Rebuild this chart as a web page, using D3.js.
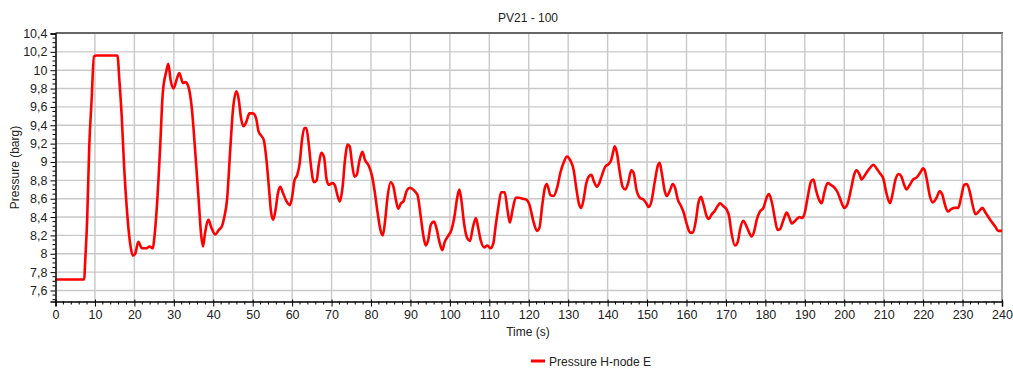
<!DOCTYPE html>
<html>
<head>
<meta charset="utf-8">
<script src="https://cdn.jsdelivr.net/npm/d3@7"></script>
<style>
  html, body { margin: 0; padding: 0; background: #fff; }
  svg { display: block; font-family: "Liberation Sans", Arial, sans-serif; }
</style>
</head>
<body>
<svg id="chart" width="1013" height="369"></svg>
<script>
// Pressure at H-node E over time, PV21 - 100 case
const chartTitle = "PV21 - 100";
const seriesName = "Pressure H-node E";
const xLabel = "Time (s)";
const yLabel = "Pressure (barg)";

const time = [
  0, 7.3, 7.46, 8.05, 8.56, 9.15, 9.75, 10.4, 15.7, 16.2, 16.8, 17.4, 18.05, 18.9, 19.6,
  20.2, 21.0, 21.9, 23.1, 23.8, 24.7, 25.0, 25.7, 26.5, 27.2, 28.05, 28.6, 29.2, 29.9,
  30.8, 31.4, 32.3, 32.9, 33.7, 34.6, 35.4, 36.3, 36.9, 37.4, 37.9, 38.8, 39.4,
  40.5, 41.4, 42.2, 42.8, 43.5, 44.3, 45.0, 45.9, 46.5, 47.0, 47.7, 48.4, 49.2,
  50.1, 50.9, 51.5, 52.1, 52.8, 53.5, 54.1, 54.7, 55.2, 55.8, 56.4, 57.0, 57.7, 58.6, 59.4,
  60.0, 60.6, 61.3, 61.9, 62.5, 63.1, 63.6, 64.2, 64.8, 65.5, 66.2, 66.8, 67.4, 68.1, 68.7, 69.3,
  70.2, 70.8, 71.6, 72.1, 72.8, 73.4, 74.1, 74.6, 75.2, 75.8, 76.4, 77.0, 77.8, 78.5, 79.3,
  80.2, 81.0, 81.7, 82.5, 83.0, 83.6, 84.2, 85.0, 85.7, 86.3, 86.9, 87.6, 88.2, 89.1, 89.9,
  90.9, 91.8, 92.6, 93.3, 93.9, 94.5, 95.2, 96.0, 96.7, 97.4, 98.1, 98.7, 99.5,
  100.4, 101.1, 101.9, 102.4, 102.9, 103.6, 104.4, 105.1, 105.8, 106.6, 107.1, 107.8, 108.7, 109.5,
  110.3, 111.0, 111.6, 112.3, 113.0, 113.9, 114.6, 115.2, 115.9, 116.7, 117.6, 118.4, 119.4,
  120.2, 121.2, 122.1, 122.7, 123.4, 124.1, 124.6, 125.5, 126.3, 127.2, 128.0, 128.9, 129.7,
  130.5, 131.4, 132.0, 132.7, 133.3, 133.9, 134.5, 135.2, 135.9, 136.5, 137.3, 137.9, 138.6, 139.4,
  140.3, 140.9, 141.4, 141.8, 142.4, 143.0, 143.8, 144.5, 145.2, 146.0, 146.6, 147.3, 148.2, 149.1, 149.8,
  150.4, 151.1, 151.9, 152.8, 153.2, 153.8, 154.5, 155.0, 155.9, 156.5, 157.1, 157.8, 158.6, 159.2,
  160.1, 160.9, 161.6, 162.4, 163.0, 163.7, 164.3, 165.1, 165.7, 166.4, 167.2, 167.9, 168.5, 169.3,
  170.2, 170.8, 171.4, 172.3, 173.0, 173.6, 174.4, 175.0, 175.7, 176.5, 177.2, 177.8, 178.6, 179.5,
  180.3, 180.9, 181.6, 182.3, 183.1, 183.7, 184.6, 185.4, 186.1, 186.7, 187.3, 188.0, 188.6, 189.4,
  190.0, 190.7, 191.6, 192.2, 192.8, 193.6, 194.3, 194.9, 195.8, 196.6, 197.5, 198.3, 199.2,
  200.0, 200.8, 201.7, 202.5, 203.1, 203.8, 204.4, 205.0, 205.9, 206.8, 207.4, 208.2, 209.0, 209.9,
  210.7, 211.6, 212.2, 213.0, 213.8, 214.5, 215.2, 215.8, 216.6, 217.5, 218.3, 219.2,
  220.0, 220.4, 221.1, 221.7, 222.5, 223.4, 224.2, 224.9, 225.5, 226.3, 227.2, 228.0, 228.9, 229.7,
  230.4, 231.1, 231.8, 232.5, 233.3, 234.1, 235.0, 235.8, 236.7, 237.5, 238.4, 239.0, 240.0
];

const pressure = [
  7.72, 7.72, 7.86, 8.40, 9.17, 9.67, 10.15, 10.16, 10.16, 9.89, 9.49, 8.95, 8.51, 8.12, 7.98,
  8.00, 8.13, 8.06, 8.06, 8.08, 8.06, 8.15, 8.51, 9.13, 9.75, 9.98, 10.07, 9.89, 9.80,
  9.91, 9.97, 9.86, 9.87, 9.82, 9.57, 9.13, 8.59, 8.22, 8.08, 8.22, 8.37, 8.30,
  8.21, 8.26, 8.30, 8.40, 8.59, 9.13, 9.57, 9.77, 9.67, 9.49, 9.39, 9.44, 9.53,
  9.53, 9.47, 9.33, 9.29, 9.24, 9.02, 8.73, 8.44, 8.37, 8.48, 8.66, 8.73, 8.66, 8.57, 8.53,
  8.62, 8.80, 8.86, 8.98, 9.24, 9.37, 9.37, 9.20, 8.95, 8.78, 8.80, 8.98, 9.10, 9.05, 8.82, 8.75,
  8.77, 8.75, 8.62, 8.57, 8.73, 9.02, 9.19, 9.17, 8.98, 8.84, 8.86, 9.00, 9.11, 9.02, 8.97,
  8.86, 8.66, 8.44, 8.24, 8.20, 8.37, 8.62, 8.78, 8.73, 8.59, 8.49, 8.55, 8.57, 8.69, 8.72,
  8.69, 8.64, 8.41, 8.19, 8.09, 8.15, 8.32, 8.35, 8.26, 8.12, 8.04, 8.13, 8.19,
  8.26, 8.39, 8.62, 8.70, 8.59, 8.33, 8.17, 8.14, 8.28, 8.39, 8.30, 8.15, 8.07, 8.09,
  8.06, 8.11, 8.30, 8.51, 8.67, 8.67, 8.48, 8.34, 8.48, 8.61, 8.61, 8.60, 8.59,
  8.53, 8.35, 8.25, 8.28, 8.52, 8.72, 8.76, 8.64, 8.63, 8.72, 8.88, 9.00, 9.06,
  9.02, 8.91, 8.73, 8.55, 8.50, 8.59, 8.75, 8.84, 8.86, 8.79, 8.73, 8.77, 8.86, 8.95,
  8.98, 9.02, 9.11, 9.17, 9.09, 8.91, 8.73, 8.70, 8.77, 8.91, 8.88, 8.70, 8.61, 8.59, 8.55,
  8.51, 8.57, 8.77, 8.97, 8.99, 8.86, 8.68, 8.63, 8.70, 8.76, 8.72, 8.59, 8.52, 8.46,
  8.32, 8.23, 8.23, 8.37, 8.55, 8.62, 8.54, 8.41, 8.38, 8.43, 8.47, 8.52, 8.55, 8.52,
  8.48, 8.41, 8.23, 8.09, 8.13, 8.27, 8.36, 8.32, 8.25, 8.19, 8.25, 8.37, 8.46, 8.50,
  8.61, 8.65, 8.57, 8.41, 8.26, 8.27, 8.37, 8.45, 8.39, 8.33, 8.35, 8.38, 8.40, 8.39,
  8.45, 8.61, 8.79, 8.81, 8.70, 8.59, 8.55, 8.66, 8.77, 8.75, 8.72, 8.67, 8.57,
  8.50, 8.54, 8.70, 8.86, 8.91, 8.87, 8.81, 8.84, 8.90, 8.95, 8.97, 8.93, 8.88, 8.82,
  8.66, 8.55, 8.64, 8.81, 8.87, 8.84, 8.75, 8.70, 8.75, 8.81, 8.83, 8.88,
  8.93, 8.91, 8.77, 8.63, 8.56, 8.61, 8.68, 8.64, 8.54, 8.46, 8.49, 8.50, 8.50, 8.63,
  8.75, 8.76, 8.68, 8.54, 8.43, 8.46, 8.50, 8.45, 8.39, 8.34, 8.29, 8.25, 8.25
];

const xTicks = d3.range(0, 241, 10);
const yTicks = [7.6, 7.8, 8, 8.2, 8.4, 8.6, 8.8, 9, 9.2, 9.4, 9.6, 9.8, 10, 10.2, 10.4];

const data = time.map((t, i) => ({ t, p: pressure[i] }));

const svg = d3.select("#chart");
const margin = { left: 55.5, right: 1002, top: 33.5, bottom: 301.5 };

const x = d3.scaleLinear().domain([0, 240]).range([margin.left, margin.right]);
const y = d3.scaleLinear().domain([7.48, 10.4]).range([margin.bottom, margin.top]);

const fmt = v => d3.format(".1~f")(v).replace(".", ",");

// grid
const grid = svg.append("g").attr("stroke", "#c9c9c9").attr("stroke-width", 1.4);
grid.selectAll("line.v").data(xTicks.filter(d => d > 0 && d < 240)).join("line")
  .attr("x1", d => x(d)).attr("x2", d => x(d))
  .attr("y1", margin.top).attr("y2", margin.bottom);
grid.selectAll("line.h").data(yTicks.filter(d => d < 10.4)).join("line")
  .attr("x1", margin.left).attr("x2", margin.right)
  .attr("y1", d => y(d)).attr("y2", d => y(d));

// frame: top and right
svg.append("line").attr("x1", margin.left).attr("x2", margin.right + 1)
  .attr("y1", margin.top - 0.5).attr("y2", margin.top - 0.5)
  .attr("stroke", "#666").attr("stroke-width", 2);
svg.append("line").attr("x1", margin.right).attr("x2", margin.right)
  .attr("y1", margin.top).attr("y2", margin.bottom)
  .attr("stroke", "#a8a8a8").attr("stroke-width", 2);

// series line
const line = d3.line().x(d => x(d.t)).y(d => y(d.p)).curve(d3.curveMonotoneX);
svg.append("path").datum(data)
  .attr("fill", "none").attr("stroke", "#ff0000").attr("stroke-width", 2.6)
  .attr("stroke-linejoin", "round").attr("d", line);

// y axis
const yAxis = svg.append("g").attr("transform", `translate(${margin.left},0)`);
yAxis.call(d3.axisLeft(y).tickValues(yTicks).tickFormat(fmt).tickSize(5).tickPadding(3));
yAxis.append("g").selectAll("line").data(d3.range(7.5, 10.4, 0.05).filter(v => Math.abs(v * 5 - Math.round(v * 5)) > 1e-6))
  .join("line").attr("x1", -3).attr("x2", 0).attr("y1", d => y(d)).attr("y2", d => y(d))
  .attr("stroke", "#000");
yAxis.select(".domain").attr("stroke-width", 1.5);
yAxis.selectAll("text").attr("font-size", 12.5).attr("fill", "#222")
  .attr("font-family", "'Liberation Sans', Arial, sans-serif");

// x axis
const xAxis = svg.append("g").attr("transform", `translate(0,${margin.bottom})`);
xAxis.call(d3.axisBottom(x).tickValues(xTicks).tickFormat(d3.format("d")).tickSize(5).tickPadding(4));
xAxis.selectAll(".tick line").attr("y1", -2);
xAxis.append("g").selectAll("line").data(d3.range(0, 241, 2).filter(v => v % 10 !== 0))
  .join("line").attr("x1", d => x(d)).attr("x2", d => x(d)).attr("y1", 0).attr("y2", 3)
  .attr("stroke", "#000");
xAxis.select(".domain").attr("stroke-width", 1.5);
xAxis.selectAll("text").attr("font-size", 12.5).attr("fill", "#222")
  .attr("font-family", "'Liberation Sans', Arial, sans-serif");

// title and axis labels
svg.append("text").attr("x", 528).attr("y", 22).attr("text-anchor", "middle")
  .attr("font-size", 12).attr("fill", "#222").text(chartTitle);
svg.append("text").attr("x", 528).attr("y", 336).attr("text-anchor", "middle")
  .attr("font-size", 12).attr("fill", "#222").text(xLabel);
svg.append("text").attr("transform", `translate(19,${(margin.top + margin.bottom) / 2}) rotate(-90)`)
  .attr("text-anchor", "middle").attr("font-size", 12).attr("fill", "#222").text(yLabel);

// legend
const legend = svg.append("g").attr("transform", "translate(531,361)");
legend.append("line").attr("x1", 0).attr("x2", 14).attr("y1", 0).attr("y2", 0)
  .attr("stroke", "#ff0000").attr("stroke-width", 3);
legend.append("text").attr("x", 18).attr("y", 4.5).attr("font-size", 12).attr("fill", "#222")
  .text(seriesName);
</script>
</body>
</html>
